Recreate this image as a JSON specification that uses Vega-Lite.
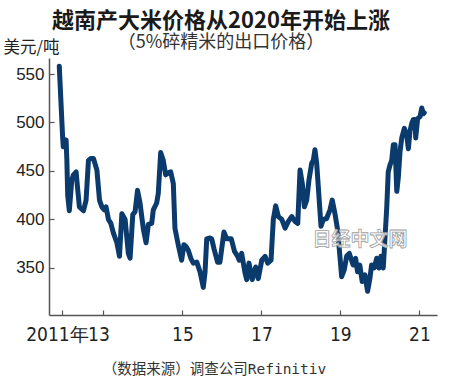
{
  "$schema": "https://vega.github.io/schema/vega-lite/v6.json",
  "width": 388,
  "height": 257,
  "autosize": "none",
  "padding": {"left": 49, "top": 58, "right": 13, "bottom": 72},
  "background": "white",
  "title": {
    "text": "越南产大米价格从2020年开始上涨",
    "subtitle": "（5%碎精米的出口价格）",
    "anchor": "middle",
    "dx": -22,
    "offset": -14,
    "font": "Noto Sans CJK SC",
    "fontSize": 22,
    "fontWeight": "bold",
    "color": "#1a1a1a",
    "subtitleFont": "Noto Sans CJK SC",
    "subtitleFontSize": 18,
    "subtitleColor": "#333333",
    "subtitlePadding": 1
  },
  "config": {"view": {"stroke": null}},
  "layer": [
    {
      "data": {"values": [
        {"date": "2011-11-19", "value": 558},
        {"date": "2011-12-20", "value": 485},
        {"date": "2011-12-26", "value": 475},
        {"date": "2012-01-21", "value": 482},
        {"date": "2012-01-28", "value": 462},
        {"date": "2012-02-05", "value": 425},
        {"date": "2012-02-20", "value": 409},
        {"date": "2012-03-14", "value": 441},
        {"date": "2012-03-29", "value": 446},
        {"date": "2012-04-23", "value": 449},
        {"date": "2012-05-05", "value": 434},
        {"date": "2012-05-23", "value": 413},
        {"date": "2012-06-30", "value": 409},
        {"date": "2012-07-24", "value": 420},
        {"date": "2012-08-15", "value": 461},
        {"date": "2012-09-06", "value": 463},
        {"date": "2012-09-30", "value": 463},
        {"date": "2012-11-01", "value": 451},
        {"date": "2012-11-25", "value": 420},
        {"date": "2012-12-17", "value": 413},
        {"date": "2013-01-07", "value": 410},
        {"date": "2013-01-25", "value": 413},
        {"date": "2013-02-16", "value": 400},
        {"date": "2013-03-10", "value": 396},
        {"date": "2013-04-03", "value": 386},
        {"date": "2013-05-05", "value": 376},
        {"date": "2013-05-29", "value": 362},
        {"date": "2013-06-20", "value": 406},
        {"date": "2013-07-20", "value": 400},
        {"date": "2013-08-19", "value": 365},
        {"date": "2013-09-04", "value": 360},
        {"date": "2013-09-29", "value": 405},
        {"date": "2013-10-20", "value": 408},
        {"date": "2013-11-12", "value": 430},
        {"date": "2013-12-05", "value": 417},
        {"date": "2013-12-21", "value": 403},
        {"date": "2014-01-05", "value": 390},
        {"date": "2014-01-30", "value": 376},
        {"date": "2014-02-20", "value": 395},
        {"date": "2014-03-23", "value": 396},
        {"date": "2014-04-07", "value": 410},
        {"date": "2014-05-08", "value": 417},
        {"date": "2014-05-23", "value": 427},
        {"date": "2014-06-14", "value": 469},
        {"date": "2014-07-08", "value": 461},
        {"date": "2014-07-30", "value": 446},
        {"date": "2014-08-23", "value": 448},
        {"date": "2014-09-15", "value": 449},
        {"date": "2014-10-09", "value": 437},
        {"date": "2014-10-24", "value": 391},
        {"date": "2014-11-09", "value": 382},
        {"date": "2014-11-27", "value": 372},
        {"date": "2014-12-25", "value": 358},
        {"date": "2015-01-15", "value": 374},
        {"date": "2015-02-05", "value": 372},
        {"date": "2015-02-25", "value": 368},
        {"date": "2015-03-20", "value": 360},
        {"date": "2015-04-12", "value": 355},
        {"date": "2015-05-14", "value": 356},
        {"date": "2015-06-13", "value": 346},
        {"date": "2015-07-13", "value": 330},
        {"date": "2015-07-29", "value": 345},
        {"date": "2015-08-14", "value": 380},
        {"date": "2015-09-13", "value": 381},
        {"date": "2015-09-29", "value": 380},
        {"date": "2015-10-20", "value": 370},
        {"date": "2015-11-22", "value": 356},
        {"date": "2015-12-14", "value": 356},
        {"date": "2016-01-20", "value": 387},
        {"date": "2016-02-15", "value": 380},
        {"date": "2016-03-28", "value": 380},
        {"date": "2016-04-27", "value": 367},
        {"date": "2016-05-26", "value": 362},
        {"date": "2016-06-10", "value": 358},
        {"date": "2016-07-02", "value": 365},
        {"date": "2016-08-02", "value": 345},
        {"date": "2016-08-18", "value": 338},
        {"date": "2016-09-08", "value": 355},
        {"date": "2016-10-08", "value": 338},
        {"date": "2016-11-09", "value": 351},
        {"date": "2016-12-03", "value": 339},
        {"date": "2017-01-04", "value": 358},
        {"date": "2017-02-04", "value": 362},
        {"date": "2017-02-28", "value": 355},
        {"date": "2017-03-31", "value": 358},
        {"date": "2017-04-21", "value": 400},
        {"date": "2017-05-13", "value": 414},
        {"date": "2017-06-07", "value": 403},
        {"date": "2017-07-08", "value": 400},
        {"date": "2017-08-08", "value": 391},
        {"date": "2017-09-07", "value": 398},
        {"date": "2017-10-09", "value": 403},
        {"date": "2017-11-08", "value": 398},
        {"date": "2017-12-03", "value": 396},
        {"date": "2017-12-24", "value": 451},
        {"date": "2018-01-14", "value": 437},
        {"date": "2018-02-02", "value": 413},
        {"date": "2018-02-24", "value": 420},
        {"date": "2018-03-17", "value": 441},
        {"date": "2018-04-11", "value": 458},
        {"date": "2018-04-26", "value": 461},
        {"date": "2018-05-11", "value": 472},
        {"date": "2018-05-27", "value": 458},
        {"date": "2018-06-17", "value": 424},
        {"date": "2018-07-06", "value": 393},
        {"date": "2018-07-27", "value": 400},
        {"date": "2018-08-27", "value": 401},
        {"date": "2018-09-27", "value": 410},
        {"date": "2018-10-18", "value": 420},
        {"date": "2018-11-12", "value": 406},
        {"date": "2018-12-07", "value": 389},
        {"date": "2018-12-28", "value": 362},
        {"date": "2019-01-13", "value": 341},
        {"date": "2019-02-06", "value": 348},
        {"date": "2019-02-28", "value": 362},
        {"date": "2019-03-25", "value": 365},
        {"date": "2019-04-29", "value": 353},
        {"date": "2019-05-22", "value": 360},
        {"date": "2019-06-09", "value": 346},
        {"date": "2019-06-30", "value": 353},
        {"date": "2019-07-22", "value": 336},
        {"date": "2019-08-16", "value": 343},
        {"date": "2019-09-10", "value": 326},
        {"date": "2019-10-01", "value": 339},
        {"date": "2019-10-17", "value": 353},
        {"date": "2019-11-10", "value": 350},
        {"date": "2019-12-03", "value": 360},
        {"date": "2019-12-24", "value": 350},
        {"date": "2020-01-11", "value": 362},
        {"date": "2020-02-02", "value": 350},
        {"date": "2020-02-18", "value": 381},
        {"date": "2020-03-05", "value": 412},
        {"date": "2020-03-19", "value": 449},
        {"date": "2020-04-04", "value": 456},
        {"date": "2020-04-20", "value": 461},
        {"date": "2020-05-05", "value": 477},
        {"date": "2020-05-21", "value": 477},
        {"date": "2020-06-06", "value": 429},
        {"date": "2020-06-20", "value": 443},
        {"date": "2020-07-06", "value": 470},
        {"date": "2020-07-22", "value": 484},
        {"date": "2020-08-15", "value": 494},
        {"date": "2020-09-06", "value": 487},
        {"date": "2020-09-21", "value": 473},
        {"date": "2020-10-06", "value": 491},
        {"date": "2020-10-22", "value": 499},
        {"date": "2020-11-06", "value": 503},
        {"date": "2020-11-22", "value": 503},
        {"date": "2020-11-28", "value": 484},
        {"date": "2020-12-16", "value": 504},
        {"date": "2021-01-07", "value": 506},
        {"date": "2021-01-23", "value": 515},
        {"date": "2021-02-07", "value": 509},
        {"date": "2021-02-16", "value": 510}
      ]},
      "mark": {"type": "line", "color": "#0b3a6c", "strokeWidth": 5, "strokeJoin": "round", "strokeCap": "round"},
      "encoding": {
        "x": {
          "field": "date", "type": "temporal",
          "scale": {"domain": ["2011-08-16", "2021-06-13"], "nice": false},
          "axis": {
            "values": [
              {"year": 2011, "month": 12, "date": 14},
              {"year": 2013, "month": 1, "date": 1},
              {"year": 2015, "month": 1, "date": 1},
              {"year": 2017, "month": 1, "date": 1},
              {"year": 2019, "month": 1, "date": 1},
              {"year": 2021, "month": 1, "date": 1}
            ],
            "labelExpr": "year(datum.value) < 2012 ? '2011年' : timeFormat(datum.value, '%y')",
            "labelOverlap": false,
            "labelOffset": {"condition": {"test": "year(datum.value) < 2014", "value": -5}, "value": 0},
            "labelFont": "Liberation Sans Narrow, DejaVu Sans Condensed, sans-serif",
            "labelFontSize": 19,
            "labelColor": "#222222",
            "labelPadding": 15,
            "labelBaseline": "top",
            "tickSize": -5,
            "tickColor": "#555555",
            "tickWidth": 1.2,
            "domainColor": "#555555",
            "domainWidth": 1.5,
            "grid": false,
            "title": "（数据来源）调查公司Refinitiv",
            "titleFont": "DejaVu Sans Mono, Noto Sans CJK SC",
            "titleFontSize": 14.5,
            "titleFontWeight": "normal",
            "titleColor": "#333333",
            "titleX": 165,
            "titleY": 54,
            "titleAlign": "center",
            "titleBaseline": "middle"
          }
        },
        "y": {
          "field": "value", "type": "quantitative",
          "scale": {"domain": [301.5, 566.5], "nice": false, "zero": false},
          "axis": {
            "values": [350, 400, 450, 500, 550],
            "labelFont": "Liberation Sans, sans-serif",
            "labelFontSize": 17,
            "labelColor": "#222222",
            "labelPadding": 10,
            "tickSize": -5,
            "tickColor": "#555555",
            "tickWidth": 1.2,
            "domainColor": "#555555",
            "domainWidth": 1.5,
            "grid": false,
            "title": "美元/吨",
            "titleFont": "Noto Sans CJK SC",
            "titleFontSize": 16.5,
            "titleFontWeight": "normal",
            "titleColor": "#222222",
            "titleAngle": 0,
            "titleX": -46,
            "titleY": -11,
            "titleAlign": "left",
            "titleBaseline": "middle"
          }
        }
      }
    },
    {
      "data": {"values": [{"date": "2019-07-01", "value": 379, "label": "日经中文网"}]},
      "mark": {"type": "text", "font": "Noto Sans CJK SC", "fontSize": 19, "fontWeight": "bold", "fill": "#ffffff", "fillOpacity": 0.8, "stroke": "#a0a0a0", "strokeWidth": 0.8},
      "encoding": {
        "x": {"field": "date", "type": "temporal"},
        "y": {"field": "value", "type": "quantitative"},
        "text": {"field": "label"}
      }
    }
  ]
}
